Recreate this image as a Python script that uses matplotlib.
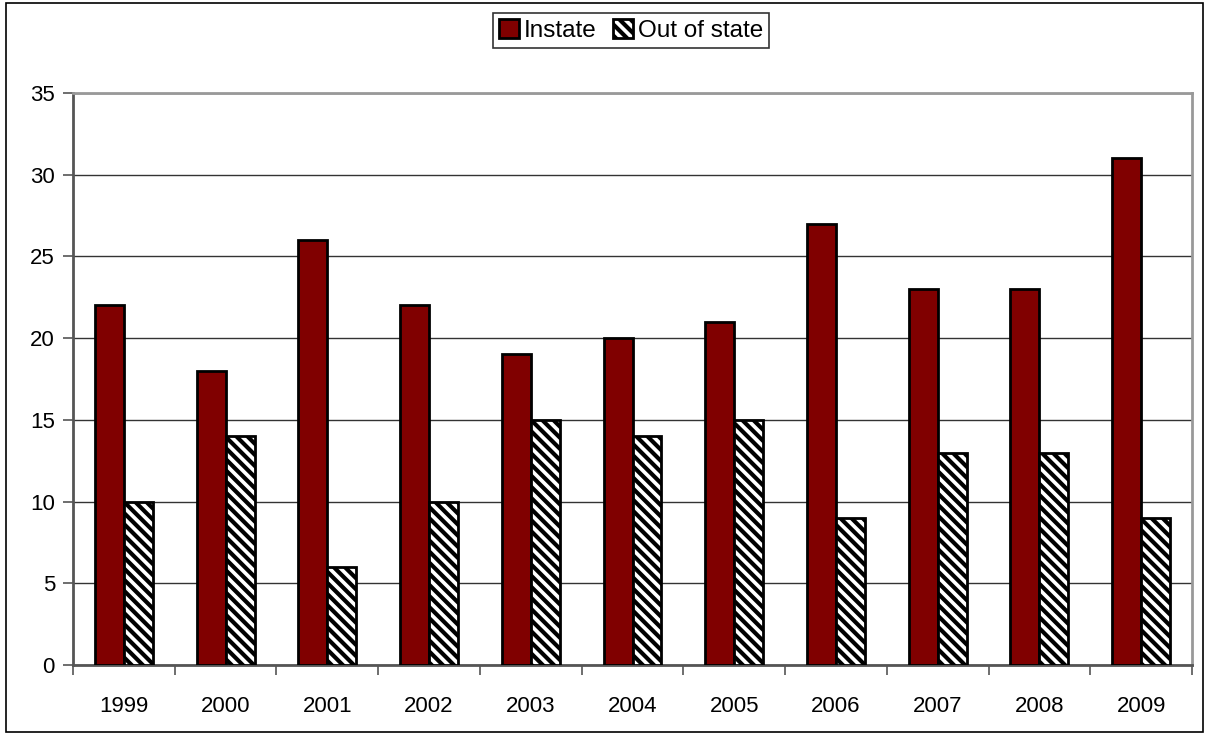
import numpy as np
import matplotlib.pyplot as plt
from matplotlib.patches import Rectangle

years = ['1999', '2000', '2001', '2002', '2003', '2004', '2005', '2006', '2007', '2008', '2009']
instate = [22, 18, 26, 22, 19, 20, 21, 27, 23, 23, 31]
out_of_state = [10, 14, 6, 10, 15, 14, 15, 9, 13, 13, 9]

plt.rcParams['font.family'] = ['Liberation Sans', 'DejaVu Sans']
plt.rcParams['hatch.linewidth'] = 3.0

fig = plt.figure(figsize=(12.06, 7.34), dpi=100)
ax = fig.add_axes([73/1206, 1 - 665/734, (1192-73)/1206, (665-93)/734])

x = np.arange(len(years))
w = 0.285
ax.bar(x - w/2, instate, w, color='#800000', edgecolor='black', linewidth=2,
       label='Instate', zorder=3)
ax.bar(x + w/2, out_of_state, w, color='white', edgecolor='black', linewidth=2,
       hatch='\\\\\\', label='Out of state', zorder=3)

ax.set_xlim(-0.5, len(years) - 0.5)
ax.set_ylim(0, 35)
ax.set_yticks(range(0, 36, 5))
ax.set_xticks(x)
ax.set_xticklabels(years)
ax.set_xticks(np.arange(-0.5, len(years)), minor=True)
ax.tick_params(axis='x', which='major', length=0, pad=22, labelsize=16)
ax.tick_params(axis='x', which='minor', length=7, width=1.2, color='#555555')
ax.tick_params(axis='y', length=7, width=1.2, color='#555555', labelsize=16, pad=6)
ax.grid(axis='y', color='#333333', linewidth=1.0, zorder=0)

for side in ['left', 'bottom']:
    ax.spines[side].set_color('#555555')
    ax.spines[side].set_linewidth(2)
for side in ['top', 'right']:
    ax.spines[side].set_color('#999999')
    ax.spines[side].set_linewidth(2)

leg = fig.legend(loc='upper center', bbox_to_anchor=(631/1206, 1 - 13/734), ncol=2,
                 fontsize=17.5, frameon=True, fancybox=False, edgecolor='black',
                 handlelength=0.8, handleheight=0.8, handletextpad=0.2,
                 columnspacing=0.7, borderpad=0.25, borderaxespad=0, shadow=False)
leg.get_frame().set_linewidth(1.2)

fig.patches.append(Rectangle((6/1206, 2/734), 1197/1206, 729/734, transform=fig.transFigure,
                             fill=False, edgecolor='black', linewidth=1.2))

fig.savefig('out.png', dpi=100)
